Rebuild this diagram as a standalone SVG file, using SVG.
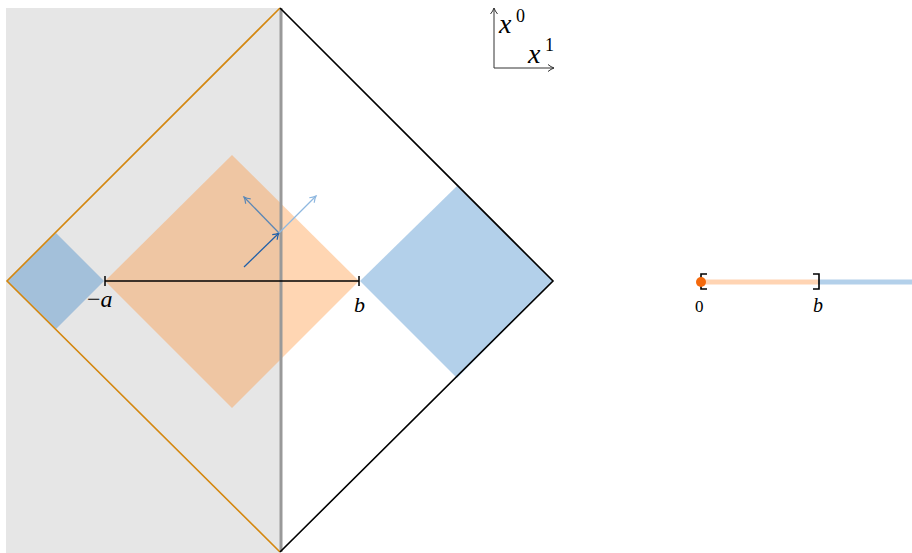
<svg xmlns="http://www.w3.org/2000/svg" width="912" height="553" viewBox="0 0 912 553">
<style>
text{font-family:"Liberation Serif","DejaVu Serif",serif;fill:#000}
.it{font-style:italic}
.blueF{fill:rgb(44,124,197);fill-opacity:0.36}
.orF{fill:rgb(255,141,44);fill-opacity:0.36}
</style>
<defs>
<marker id="ahd" markerWidth="10" markerHeight="10" refX="8" refY="5" orient="auto" markerUnits="userSpaceOnUse">
<path d="M2,1.5 Q5,4 8,5 Q5,6 2,8.5" fill="none" stroke="#1f5fa8" stroke-width="1.2"/>
</marker>
<marker id="ahm" markerWidth="10" markerHeight="10" refX="8" refY="5" orient="auto" markerUnits="userSpaceOnUse">
<path d="M2,1.5 Q5,4 8,5 Q5,6 2,8.5" fill="none" stroke="#5b87b5" stroke-width="1.2"/>
</marker>
<marker id="ahl" markerWidth="10" markerHeight="10" refX="8" refY="5" orient="auto" markerUnits="userSpaceOnUse">
<path d="M2,1.5 Q5,4 8,5 Q5,6 2,8.5" fill="none" stroke="#8fb8e0" stroke-width="1.2"/>
</marker>
<marker id="ahk" markerWidth="10" markerHeight="10" refX="8" refY="5" orient="auto" markerUnits="userSpaceOnUse">
<path d="M2,1.5 Q5,4 8,5 Q5,6 2,8.5" fill="none" stroke="#333" stroke-width="1"/>
</marker>
</defs>
<rect id="shade" x="6" y="8" width="274" height="545" fill="#e6e6e6"/>
<g id="orange-diamond"><polygon class="orF" points="232,155 359,281 232,408 105,281"/></g>
<g id="blue-right"><polygon class="blueF" points="457,186 553,281 457,378 360,281"/></g>
<g id="blue-left"><polygon class="blueF" points="56,233 104,281 56,329 7,281"/></g>
<g id="boundary">
<line x1="281" y1="8" x2="281" y2="552" stroke="#999" stroke-width="3"/>
<polyline points="280,8 7,281 280,552" fill="none" stroke="#d4870f" stroke-width="1.6"/>
<polyline points="280,8 553,281 280,552" fill="none" stroke="#000" stroke-width="1.6"/>
</g>
<g id="interval">
<line x1="105" y1="281" x2="359" y2="281" stroke="#000" stroke-width="1.5"/>
<line x1="105" y1="276" x2="105" y2="286" stroke="#000" stroke-width="1.5"/>
<line x1="359" y1="276" x2="359" y2="286" stroke="#000" stroke-width="1.5"/>
<text x="87" y="307" style="font-size:24px"><tspan>−</tspan><tspan class="it">a</tspan></text>
<text class="it" x="354" y="312" style="font-size:22px">b</text>
</g>
<g id="arrows">
<line x1="244" y1="267" x2="279" y2="233" stroke="#1f5fa8" stroke-width="1.3" marker-end="url(#ahd)"/>
<line x1="279" y1="233" x2="244" y2="197" stroke="#5b87b5" stroke-width="1.3" marker-end="url(#ahm)"/>
<line x1="279" y1="233" x2="316" y2="196" stroke="#8fb8e0" stroke-width="1.3" marker-end="url(#ahl)"/>
</g>
<g id="axes">
<line x1="494" y1="68" x2="494" y2="8" stroke="#333" stroke-width="1" marker-end="url(#ahk)"/>
<line x1="494" y1="68" x2="554" y2="68" stroke="#333" stroke-width="1" marker-end="url(#ahk)"/>
<text class="it" x="499" y="33" style="font-size:28px">x</text><text x="516" y="22" style="font-size:18px">0</text>
<text class="it" x="528" y="63" style="font-size:28px">x</text><text x="545" y="51" style="font-size:18px">1</text>
</g>
<g id="line-plot">
<line x1="701" y1="282" x2="818" y2="282" stroke="#ffd4b3" stroke-width="5"/>
<line x1="818" y1="282" x2="912" y2="282" stroke="#b3d0ea" stroke-width="5"/>
<path d="M707,274 H701 V289 H707" fill="none" stroke="#000" stroke-width="1.6"/>
<path d="M813,274 H819 V289 H813" fill="none" stroke="#000" stroke-width="1.6"/>
<circle cx="701" cy="282" r="5" fill="#f4690c"/>
<text x="695" y="312" style="font-size:17px">0</text>
<text class="it" x="813" y="312" style="font-size:20px">b</text>
</g>
</svg>
